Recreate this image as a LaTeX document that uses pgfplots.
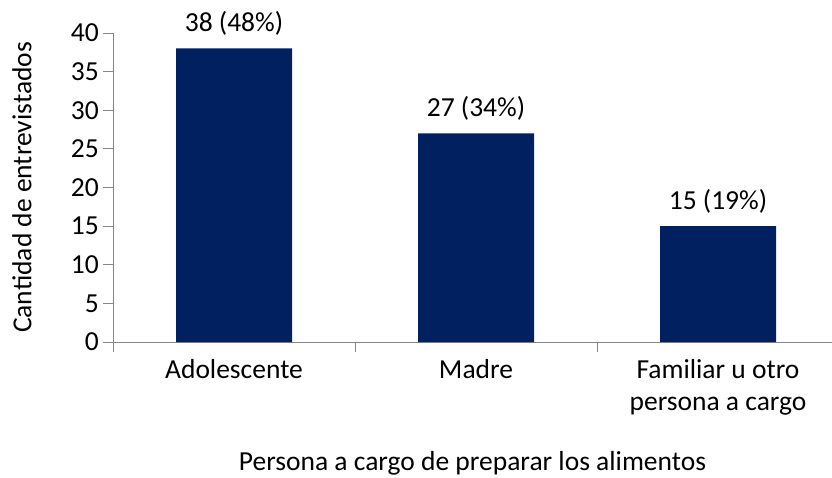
\documentclass[border=0pt]{standalone}
\usepackage{pgfplots}
\pgfplotsset{compat=1.18}
\usepackage{fontspec}
\setmainfont{Carlito}
\definecolor{barblue}{RGB}{0,32,96}
\definecolor{axgray}{RGB}{134,134,134}
\begin{document}
\begin{tikzpicture}
\useasboundingbox (-113bp,-136bp) rectangle (719bp,342bp);
\begin{axis}[
  at={(0bp,0bp)}, anchor=south west,
  scale only axis, width=719bp, height=309bp,
  xmin=-0.5, xmax=2.471, ymin=0, ymax=40,
  axis lines*=left,
  axis line style={axgray, line width=0.8bp},
  font=\fontsize{27.5bp}{32bp}\selectfont,
  /pgf/number format/assume math mode=true,
  ytick={0,5,...,40},
  xtick={-0.5,0.5,1.5}, xticklabels={},
  extra x ticks={0,1,2},
  extra x tick labels={Adolescente,Madre,{Familiar u otro\\persona a cargo}},
  extra x tick style={major tick length=0pt},
  xticklabel style={align=center, anchor=north, inner sep=0pt, yshift=-17bp},
  yticklabel style={anchor=east, inner sep=0pt, xshift=-4bp},
  tick align=outside, major tick length=10bp,
  tick style={axgray, line width=0.8bp},
  ybar, bar width=116bp,
  nodes near coords, point meta=explicit symbolic,
  every node near coord/.append style={anchor=south, inner sep=0pt, yshift=13bp, font=\fontsize{27.5bp}{32bp}\selectfont, text=black},
  ylabel={Cantidad de entrevistados},
  ylabel style={at={(axis description cs:-0.1266,0.5)}, anchor=center},
  xlabel={Persona a cargo de preparar los alimentos},
  xlabel style={at={(axis description cs:0.5,-0.3916)}, anchor=center},
]
\addplot[fill=barblue, draw=none] coordinates {(0,38) [38 (48\%)] (1,27) [27 (34\%)] (2,15) [15 (19\%)]};
\end{axis}
\end{tikzpicture}
\end{document}
